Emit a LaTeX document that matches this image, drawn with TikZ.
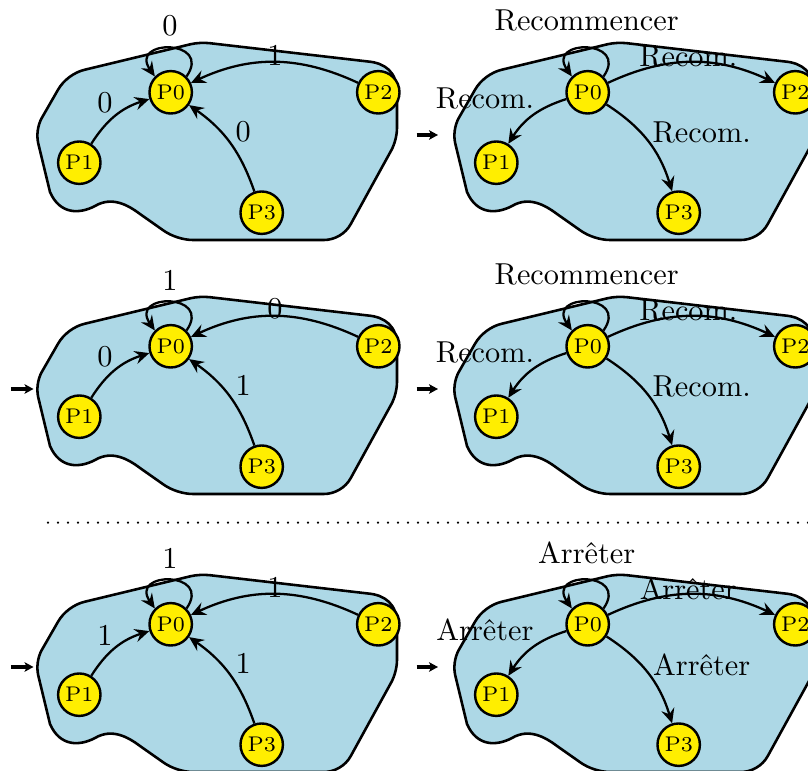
\documentclass[tikz,border=0pt]{standalone}
\usepackage{fontspec}
\usetikzlibrary{arrows.meta}
\definecolor{blobfill}{RGB}{173,216,230}
\definecolor{procfill}{RGB}{255,238,0}
\tikzset{
  blob/.style={draw=black, fill=blobfill, line width=0.85pt, line join=round},
  proc/.style={circle, draw=black, fill=procfill, line width=0.8pt, minimum size=14pt, inner sep=0pt, font=\scriptsize},
  edge/.style={line width=0.75pt, -{Stealth[length=4.8pt,width=4.4pt,inset=1.7pt]}},
  lbl/.style={inner sep=0pt, font=\normalsize},
  entry/.style={line width=1pt, -{Stealth[length=3pt,width=3.2pt,inset=0.8pt]}},
  dotline/.style={line width=0.8pt, line cap=round, dash pattern=on 0pt off 3.3pt},
}
% #1 prefix, #2 x offset, #3 y offset
\newcommand{\blobpanel}[3]{%
  \begin{scope}[shift={(#2,#3)}]
    \draw[blob] (260,-240) -- (324,-240)
      .. controls (334.8,-240) and (345.5,-233.7) .. (350.7,-224.2)
      -- (391.2,-150.5) .. controls (394.7,-144.2) and (397,-135.2) .. (397,-128)
      -- (397,-92) .. controls (397,-72) and (385,-63) .. (368,-61.5)
      -- (209.9,-43.2) .. controls (203.9,-42.5) and (196.1,-42.9) .. (190.3,-44.3)
      -- (84.5,-69.8) .. controls (74,-72.3) and (63.5,-80.2) .. (58.1,-89.6)
      -- (41.9,-117.8) .. controls (37.7,-125.1) and (36.3,-135.4) .. (38.3,-143.6)
      -- (50,-192) .. controls (60,-215) and (80,-214) .. (95,-206)
      .. controls (112,-196) and (128,-205) .. (140,-214)
      -- (163.9,-230.8) .. controls (171.8,-236.3) and (183.4,-240) .. (193,-240) -- cycle;
    \node[proc] (#1p0) at (170.7,-92.3) {P0};
    \node[proc] (#1p1) at (79.3,-162.7) {P1};
    \node[proc] (#1p2) at (378.3,-92.3) {P2};
    \node[proc] (#1p3) at (261.7,-212.7) {P3};
    \draw[edge] (#1p0.45) .. controls +(55:46) and +(125:46) .. (#1p0.135);
  \end{scope}}
% #1 prefix, #2 y offset, #3 loop, #4 P2 label, #5 P1 label, #6 P3 label
\newcommand{\leftpanel}[6]{%
  \blobpanel{#1}{0}{#2}
  \draw[edge] (#1p1) to[bend left=20] (#1p0);
  \draw[edge] (#1p3) to[bend right=18] (#1p0);
  \draw[edge] (#1p2) to[bend right=25] (#1p0);
  \begin{scope}[shift={(0,#2)}]
    \node[lbl] (#1la) at (170,-26) {#3};
    \node[lbl] (#1lb) at (275,-55) {#4};
    \node[lbl] (#1lc) at (105,-103) {#5};
    \node[lbl] (#1ld) at (243.3,-131.7) {#6};
  \end{scope}}
% #1 prefix, #2 y offset, #3 title, #4 short label
\newcommand{\rightpanel}[4]{%
  \blobpanel{#1}{417}{#2}
  \draw[edge] (#1p0) to[bend right=20] (#1p1);
  \draw[edge] (#1p0) to[bend left=20] (#1p3);
  \draw[edge] (#1p0) to[bend left=25] (#1p2);
  \begin{scope}[shift={(417,#2)}]
    \node[lbl] (#1la) at (169.7,-20.7) {#3};
    \node[lbl] (#1lb) at (271.3,-56.7) {#4};
    \node[lbl] (#1lc) at (68,-98.3) {#4};
    \node[lbl] (#1ld) at (284.7,-132.7) {#4};
  \end{scope}}

\begin{document}
\begin{tikzpicture}[x=0.33pt,y=0.33pt]
\useasboundingbox (0,0) rectangle (808,-771);
\clip (0,0) rectangle (808,-771);

\leftpanel{A}{0}{0}{1}{0}{0}
\rightpanel{B}{0}{Recommencer}{Recom.}
\leftpanel{C}{-254}{1}{0}{0}{1}
\rightpanel{D}{-254}{Recommencer}{Recom.}
\leftpanel{E}{-532}{1}{1}{1}{1}
\rightpanel{F}{-532}{Arrêter}{Arrêter}

% entry arrows
\coordinate (bs) at (416.7,-135);  \coordinate (be) at (438,-135);
\coordinate (cs) at (11,-389);     \coordinate (ce) at (33.5,-389);
\coordinate (ds) at (416.7,-389);  \coordinate (de) at (438,-389);
\coordinate (es) at (11,-667);     \coordinate (ee) at (33.5,-667);
\coordinate (fs) at (416.7,-667);  \coordinate (fe) at (438,-667);
\draw[entry] (bs) -- (be);
\draw[entry] (cs) -- (ce);
\draw[entry] (ds) -- (de);
\draw[entry] (es) -- (ee);
\draw[entry] (fs) -- (fe);

% dotted separator
\coordinate (dotA) at (48,-522.7);
\coordinate (dotB) at (812,-522.7);
\draw[dotline] (dotA) -- (dotB);
\end{tikzpicture}
\end{document}
